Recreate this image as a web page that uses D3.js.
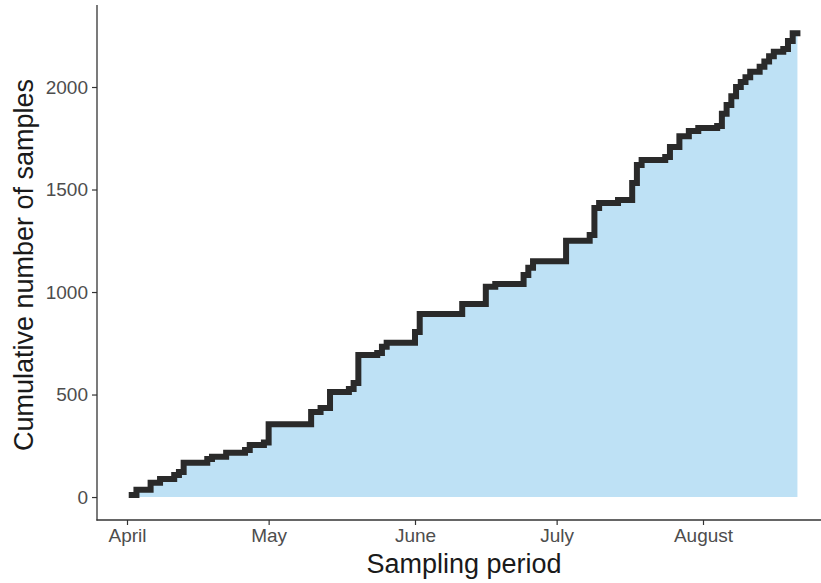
<!DOCTYPE html>
<html>
<head>
<meta charset="utf-8">
<script src="https://cdnjs.cloudflare.com/ajax/libs/d3/7.8.5/d3.min.js"></script>
<style>
  html, body { margin: 0; padding: 0; background: #fff; }
  svg { display: block; }
</style>
</head>
<body>
<svg id="chart" width="821" height="583"></svg>
<script>
// ---- data ----
const sampleDates = [
  "2021-04-02","2021-04-03","2021-04-06","2021-04-08","2021-04-11","2021-04-12","2021-04-13",
  "2021-04-18","2021-04-19","2021-04-22","2021-04-26","2021-04-27","2021-04-30",
  "2021-05-01","2021-05-10","2021-05-12","2021-05-14","2021-05-18","2021-05-19","2021-05-20",
  "2021-05-24","2021-05-25","2021-05-26",
  "2021-06-01","2021-06-02","2021-06-11","2021-06-16","2021-06-18","2021-06-24","2021-06-25","2021-06-26",
  "2021-07-03","2021-07-08","2021-07-09","2021-07-10","2021-07-14","2021-07-17","2021-07-18","2021-07-19",
  "2021-07-24","2021-07-25","2021-07-27","2021-07-29","2021-07-31",
  "2021-08-04","2021-08-05","2021-08-06","2021-08-07","2021-08-08","2021-08-09","2021-08-10",
  "2021-08-11","2021-08-13","2021-08-14","2021-08-15","2021-08-16","2021-08-18","2021-08-19",
  "2021-08-20","2021-08-21"
];
const cumulativeSamples = [
  10, 36, 70, 88, 107, 122, 167,
  185, 197, 216, 230, 254, 266,
  355, 415, 434, 512, 527, 556, 693,
  702, 733, 752,
  805, 893, 941, 1026, 1039, 1083, 1119, 1150,
  1250, 1278, 1410, 1434, 1449, 1532, 1620, 1644,
  1659, 1707, 1760, 1785, 1800,
  1810, 1870, 1912, 1955, 2000, 2025, 2048,
  2075, 2099, 2124, 2150, 2172, 2185, 2225,
  2262, 2262
];
const monthTickDates = ["2021-04-01","2021-05-01","2021-06-01","2021-07-01","2021-08-01"];
const monthTickLabels = ["April","May","June","July","August"];
const yTickValues = [0, 500, 1000, 1500, 2000];
const xTitle = "Sampling period";
const yTitle = "Cumulative number of samples";

// ---- setup ----
const parse = d3.timeParse("%Y-%m-%d");
const data = sampleDates.map((d, i) => ({ date: parse(d), value: cumulativeSamples[i] }));
const tickDates = monthTickDates.map(parse);

const svg = d3.select("#chart");

const x = d3.scaleTime()
  .domain([tickDates[0], tickDates[4]])
  .range([127, 703]);
const y = d3.scaleLinear()
  .domain([-112, 2400])
  .range([520, 5]);

const panelLeft = 97, panelRight = 821, panelTop = 5, panelBottom = 520;

// area fill
const area = d3.area()
  .curve(d3.curveStepAfter)
  .x(d => x(d.date))
  .y0(y(0))
  .y1(d => y(d.value));
svg.append("path")
  .datum(data)
  .attr("d", area)
  .attr("fill", "#bee1f5");

// step line
const line = d3.line()
  .curve(d3.curveStepAfter)
  .x(d => x(d.date))
  .y(d => y(d.value));
svg.append("path")
  .datum(data)
  .attr("d", line)
  .attr("fill", "none")
  .attr("stroke", "#2a2a2a")
  .attr("stroke-width", 6)
  .attr("stroke-linejoin", "miter")
  .attr("stroke-linecap", "square");

// axes
const labelMap = new Map(tickDates.map((d, i) => [+d, monthTickLabels[i]]));
const xAxis = d3.axisBottom(x)
  .tickValues(tickDates)
  .tickFormat(d => labelMap.get(+d))
  .tickSize(5)
  .tickPadding(4);
const gx = svg.append("g")
  .attr("transform", `translate(0,${panelBottom})`)
  .call(xAxis);
gx.select(".domain").remove();
gx.selectAll(".tick line").attr("stroke", "#333").attr("stroke-width", 1.2);
gx.selectAll(".tick text")
  .attr("fill", "#4d4d4d")
  .attr("font-family", "Liberation Sans, Arial, sans-serif")
  .attr("font-size", 19)
  .attr("dy", "0.71em");

const yAxis = d3.axisLeft(y)
  .tickValues(yTickValues)
  .tickFormat(d3.format("d"))
  .tickSize(5)
  .tickPadding(4);
const gy = svg.append("g")
  .attr("transform", `translate(${panelLeft},0)`)
  .call(yAxis);
gy.select(".domain").remove();
gy.selectAll(".tick line").attr("stroke", "#333").attr("stroke-width", 1.2);
gy.selectAll(".tick text")
  .attr("fill", "#4d4d4d")
  .attr("font-family", "Liberation Sans, Arial, sans-serif")
  .attr("font-size", 19);

// axis lines
svg.append("line")
  .attr("x1", panelLeft).attr("x2", panelLeft)
  .attr("y1", panelTop).attr("y2", panelBottom + 0.6)
  .attr("stroke", "#333").attr("stroke-width", 1.3);
svg.append("line")
  .attr("x1", panelLeft - 0.6).attr("x2", panelRight)
  .attr("y1", panelBottom).attr("y2", panelBottom)
  .attr("stroke", "#333").attr("stroke-width", 1.3);

// titles
svg.append("text")
  .attr("x", 464)
  .attr("y", 573)
  .attr("text-anchor", "middle")
  .attr("font-family", "Liberation Sans, Arial, sans-serif")
  .attr("font-size", 27)
  .attr("fill", "#1a1a1a")
  .text(xTitle);
svg.append("text")
  .attr("transform", "translate(33,265) rotate(-90)")
  .attr("text-anchor", "middle")
  .attr("font-family", "Liberation Sans, Arial, sans-serif")
  .attr("font-size", 27)
  .attr("fill", "#1a1a1a")
  .text(yTitle);
</script>
</body>
</html>
